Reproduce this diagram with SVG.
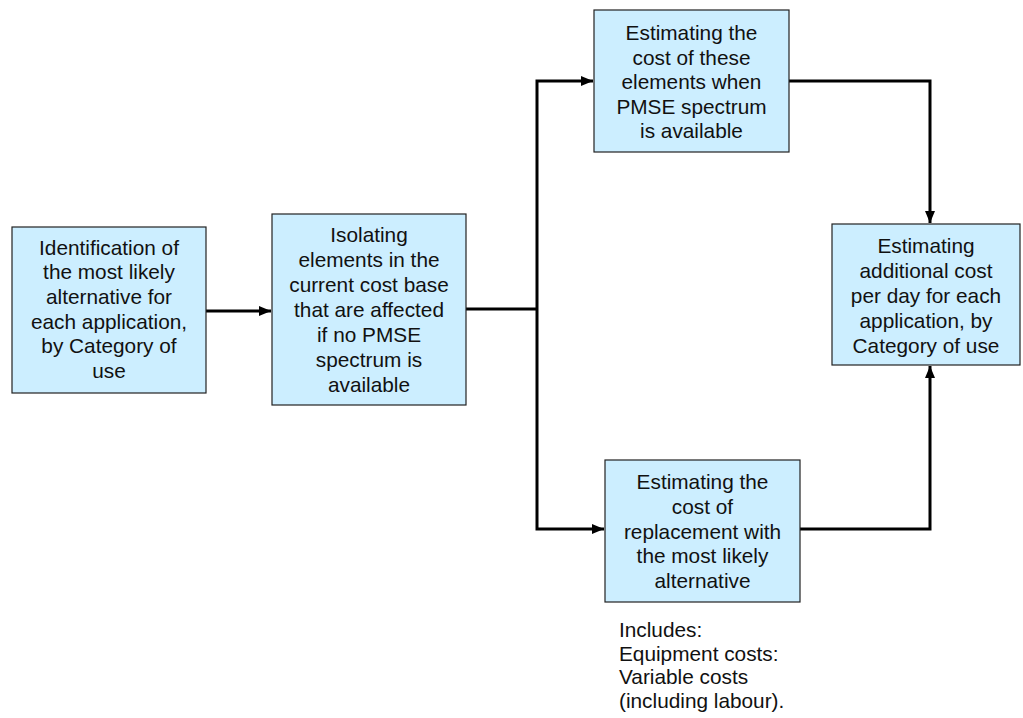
<svg xmlns="http://www.w3.org/2000/svg" width="1023" height="718" viewBox="0 0 1023 718">
  <style>
    .box { fill: #cceeff; stroke: #222222; stroke-width: 1.2; }
    .lbl { font-family: "Liberation Sans", Arial, sans-serif; font-size: 20.8px; fill: #111111; text-anchor: middle; }
    .note { font-family: "Liberation Sans", Arial, sans-serif; font-size: 20.8px; fill: #111111; }
    .wire { fill: none; stroke: #000000; stroke-width: 3; }
  </style>
  <defs>
    <marker id="arrow" markerWidth="12" markerHeight="10" refX="12" refY="5" orient="auto" markerUnits="userSpaceOnUse">
      <path d="M0,0 L12,5 L0,10 Z" fill="#000000"/>
    </marker>
  </defs>
  <rect width="1023" height="718" fill="#ffffff"/>

  <!-- connectors -->
  <g id="connectors">
    <path class="wire" d="M206,311 L271,311" marker-end="url(#arrow)"/>
    <path class="wire" d="M466,309 L537,309"/>
    <path class="wire" d="M537,309 L537,81 L593,81" marker-end="url(#arrow)"/>
    <path class="wire" d="M537,309 L537,529 L604,529" marker-end="url(#arrow)"/>
    <path class="wire" d="M789,81 L930,81 L930,223" marker-end="url(#arrow)"/>
    <path class="wire" d="M800,529 L930,529 L930,366" marker-end="url(#arrow)"/>
  </g>

  <g id="identify">
    <rect class="box" x="12" y="227" width="194" height="166"/>
    <text class="lbl" x="109" y="254.5">Identification of</text>
    <text class="lbl" x="109" y="279.2">the most likely</text>
    <text class="lbl" x="109" y="303.9">alternative for</text>
    <text class="lbl" x="109" y="328.6">each application,</text>
    <text class="lbl" x="109" y="353.3">by Category of</text>
    <text class="lbl" x="109" y="378">use</text>
  </g>

  <g id="isolate">
    <rect class="box" x="272" y="214" width="194" height="191"/>
    <text class="lbl" x="369" y="241.7">Isolating</text>
    <text class="lbl" x="369" y="266.7">elements in the</text>
    <text class="lbl" x="369" y="291.7">current cost base</text>
    <text class="lbl" x="369" y="316.7">that are affected</text>
    <text class="lbl" x="369" y="341.7">if no PMSE</text>
    <text class="lbl" x="369" y="366.7">spectrum is</text>
    <text class="lbl" x="369" y="391.7">available</text>
  </g>

  <g id="cost-available">
    <rect class="box" x="594" y="10" width="195" height="142"/>
    <text class="lbl" x="691.5" y="40">Estimating the</text>
    <text class="lbl" x="691.5" y="64.5">cost of these</text>
    <text class="lbl" x="691.5" y="89">elements when</text>
    <text class="lbl" x="691.5" y="113.5">PMSE spectrum</text>
    <text class="lbl" x="691.5" y="138">is available</text>
  </g>

  <g id="additional-cost">
    <rect class="box" x="832" y="224" width="188" height="141"/>
    <text class="lbl" x="926" y="253">Estimating</text>
    <text class="lbl" x="926" y="277.9">additional cost</text>
    <text class="lbl" x="926" y="302.8">per day for each</text>
    <text class="lbl" x="926" y="327.7">application, by</text>
    <text class="lbl" x="926" y="352.6">Category of use</text>
  </g>

  <g id="replacement">
    <rect class="box" x="605" y="460" width="195" height="142"/>
    <text class="lbl" x="702.5" y="489">Estimating the</text>
    <text class="lbl" x="702.5" y="513.8">cost of</text>
    <text class="lbl" x="702.5" y="538.5">replacement with</text>
    <text class="lbl" x="702.5" y="563.3">the most likely</text>
    <text class="lbl" x="702.5" y="588">alternative</text>
  </g>

  <g id="includes-note">
    <text class="note" x="619" y="637">Includes:</text>
    <text class="note" x="619" y="660.7">Equipment costs:</text>
    <text class="note" x="619" y="684.4">Variable costs</text>
    <text class="note" x="619" y="708">(including labour).</text>
  </g>
</svg>
